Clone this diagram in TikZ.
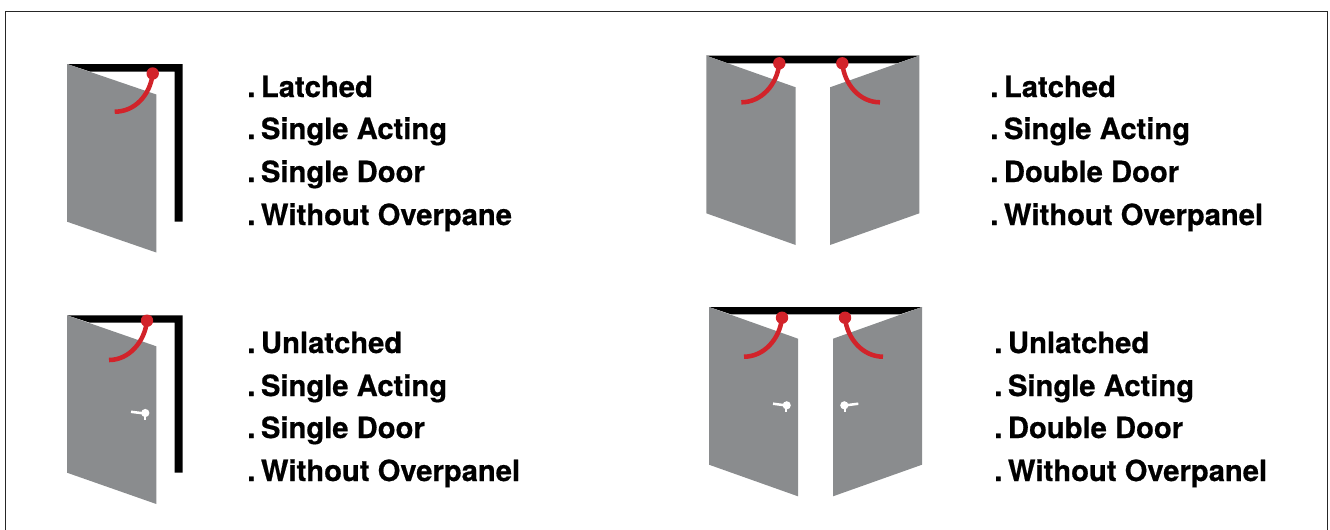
\documentclass[tikz,border=0pt]{standalone}
\usepackage{fontspec}
\setmainfont[BoldFeatures={FakeBold=0.6}]{TeX Gyre Heros}
\definecolor{doorgrey}{HTML}{8A8C8E}
\definecolor{hingered}{HTML}{D2232A}
\newcommand{\dotgap}{.\hspace{0.19em}}
\tikzset{
  panel/.style={fill=doorgrey,draw=none},
  framebar/.style={fill=black,draw=none},
  closer/.style={draw=hingered,line width=3.4pt},
  hingedot/.style={fill=hingered,draw=none},
  knob/.style={fill=white,draw=none},
  knobline/.style={draw=white,line width=1.9pt},
  lbl/.style={anchor=base west,inner sep=0pt,font=\fontsize{21.9}{26}\selectfont\bfseries,text=black},
}
\begin{document}
\begin{tikzpicture}[x=0.75pt,y=-0.75pt]
\useasboundingbox (0,0) rectangle (1330,529);
% outer frame, open at the bottom edge
\draw[line width=1pt,draw=black!85] (5.5,540) -- (5.5,11.5) -- (1327.5,11.5) -- (1327.5,540);

% --- door 1
\fill[framebar] (67,64) -- (182.7,64) -- (182.7,221.7) -- (174.7,221.7) -- (174.7,71.5) -- (90,71.5) -- cycle;
\fill[panel] (67,64) -- (156.3,94.5) -- (156.3,252.5) -- (67,221.7) -- cycle;
\draw[closer] (152.7,74) .. controls (150,95) and (135,111.7) .. (114.7,111.7);
\fill[hingedot] (152.7,73.5) circle (6.2*0.75pt);

% --- door 3
\fill[framebar] (67,315.3) -- (182.7,315.3) -- (182.7,472.7) -- (174.7,472.7) -- (174.7,322.7) -- (90,322.7) -- cycle;
\fill[panel] (67,315.3) -- (156.3,346.3) -- (156.3,504) -- (67,472.7) -- cycle;
\draw[closer] (147,321) .. controls (144.5,342) and (129,360) .. (109,360);
\fill[hingedot] (147,320.7) circle (6.2*0.75pt);
\draw[knobline] (131,411.8) -- (145,413.5);
\draw[knobline] (144.8,413.5) -- (144.8,420);
\fill[knob] (145.3,413) circle (4.1*0.75pt);

% --- door 2
\fill[framebar] (706.3,55.7) -- (919.3,55.7) -- (897,63.3) -- (728,63.3) -- cycle;
\fill[panel] (706.3,55.7) -- (795.7,87.3) -- (795.7,245) -- (706.3,213.3) -- cycle;
\fill[panel] (919.3,55.7) -- (830,87.3) -- (830,245) -- (919.3,213.3) -- cycle;
\draw[closer] (779.3,63.5) .. controls (777,85) and (761,102.3) .. (741.3,102.3);
\draw[closer] (842.3,63.5) .. controls (844.6,85) and (860,102.3) .. (880,102.3);
\fill[hingedot] (779.3,63.3) circle (6.2*0.75pt);
\fill[hingedot] (842.3,63.3) circle (6.2*0.75pt);

% --- door 4
\fill[framebar] (709,307) -- (922,307) -- (900,314.3) -- (731,314.3) -- cycle;
\fill[panel] (709,307) -- (798,338.7) -- (798,496.3) -- (709,464.7) -- cycle;
\fill[panel] (922,307) -- (833,338.7) -- (833,496.3) -- (922,464.7) -- cycle;
\draw[closer] (782,318) .. controls (779.7,339) and (764,356.7) .. (744,356.7);
\draw[closer] (845,318) .. controls (847.3,339) and (863,356.7) .. (883,356.7);
\fill[hingedot] (782,317.7) circle (6.2*0.75pt);
\fill[hingedot] (845,317.7) circle (6.2*0.75pt);
\draw[knobline] (773,403.7) -- (786.7,405.5);
\draw[knobline] (786,405.5) -- (786,412);
\fill[knob] (786.7,405.3) circle (4.1*0.75pt);
\draw[knobline] (858.3,403.7) -- (844.3,405.5);
\draw[knobline] (845,405.5) -- (845,412);
\fill[knob] (844.3,405.3) circle (4.1*0.75pt);

% --- labels
\node[lbl] (a1) at (247,97) {\dotgap Latched};
\node[lbl] (a2) at (247,139) {\dotgap Single Acting};
\node[lbl] (a3) at (247,182) {\dotgap Single Door};
\node[lbl] (a4) at (247,225) {\dotgap Without Overpane};
\node[lbl] (b1) at (990,97) {\dotgap Latched};
\node[lbl] (b2) at (990,139) {\dotgap Single Acting};
\node[lbl] (b3) at (990,182) {\dotgap Double Door};
\node[lbl] (b4) at (990,225) {\dotgap Without Overpanel};
\node[lbl] (c1) at (247,353) {\dotgap Unlatched};
\node[lbl] (c2) at (247,396) {\dotgap Single Acting};
\node[lbl] (c3) at (247,438) {\dotgap Single Door};
\node[lbl] (c4) at (247,481) {\dotgap Without Overpanel};
\node[lbl] (d1) at (994,353) {\dotgap Unlatched};
\node[lbl] (d2) at (994,396) {\dotgap Single Acting};
\node[lbl] (d3) at (994,438) {\dotgap Double Door};
\node[lbl] (d4) at (994,481) {\dotgap Without Overpanel};
\end{tikzpicture}
\end{document}
